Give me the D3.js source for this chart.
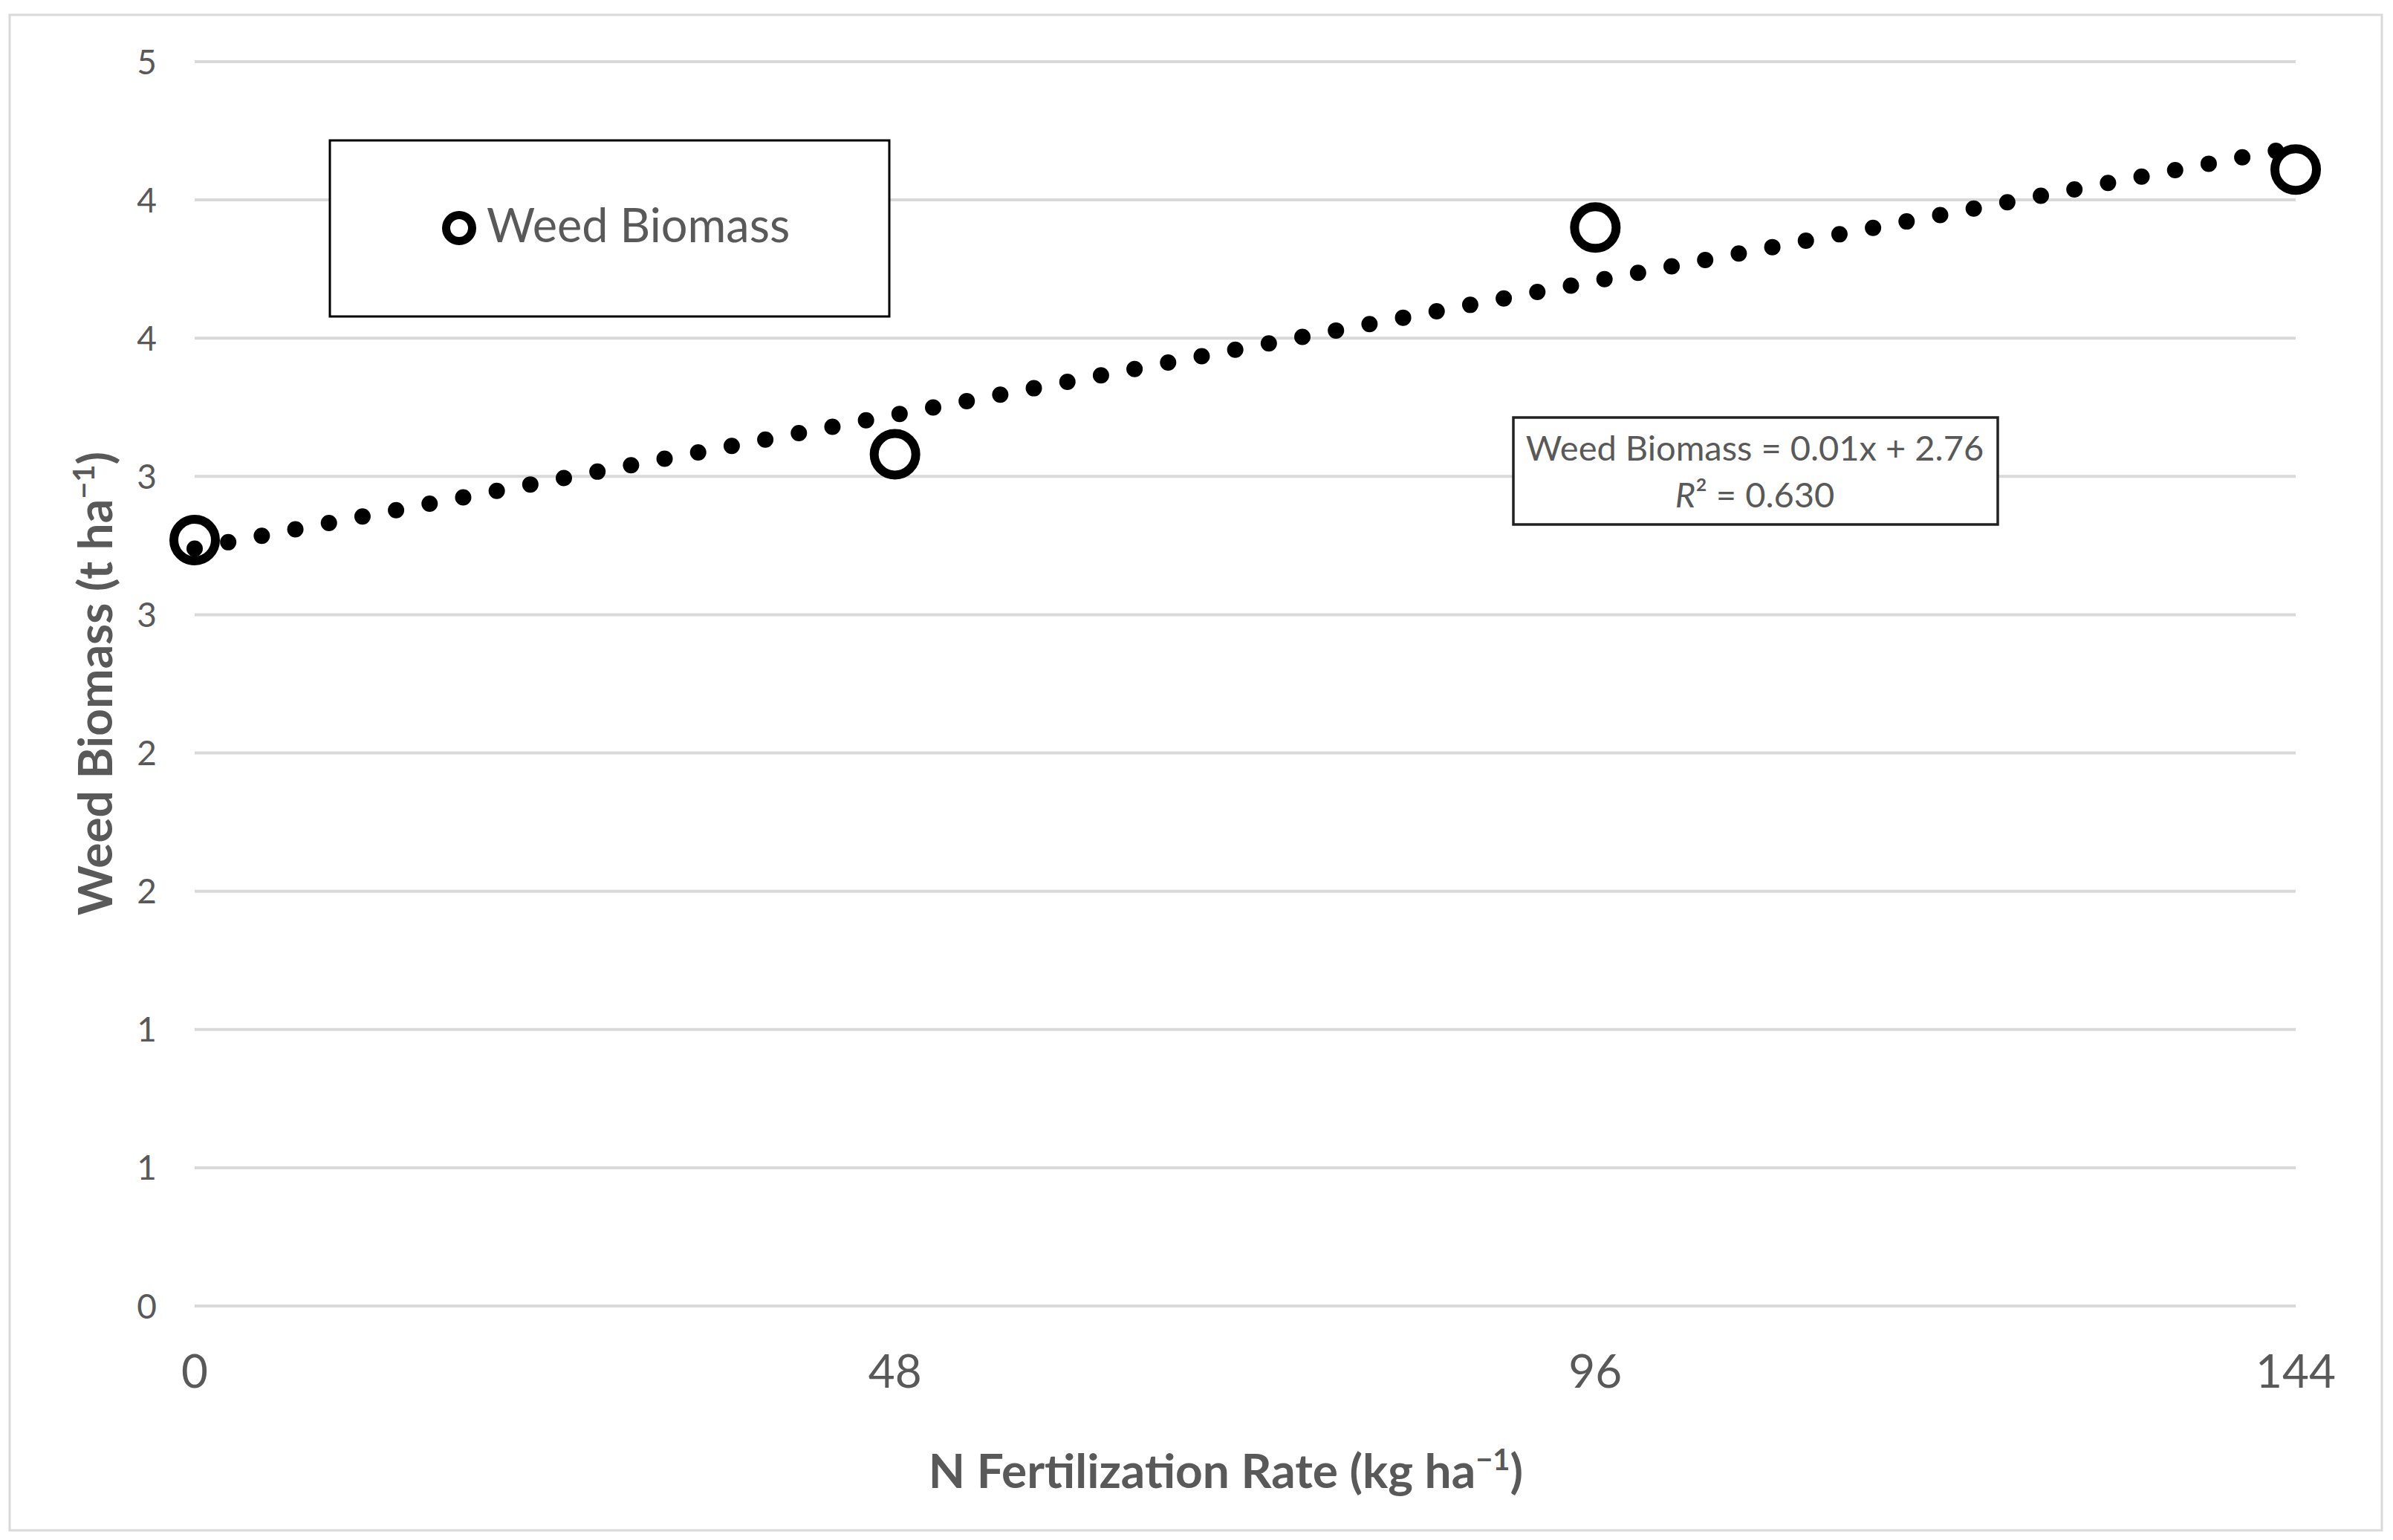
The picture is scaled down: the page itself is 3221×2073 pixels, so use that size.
<!DOCTYPE html>
<html lang="en">
<head>
<meta charset="UTF-8" />
<title>Weed Biomass vs N Fertilization Rate</title>
<script src="https://d3js.org/d3.v7.min.js"></script>
<style>
  html, body { margin: 0; padding: 0; background: #fff; }
  svg { display: block; font-family: Lato, "Open Sans", sans-serif; }
  .lbl { fill: #595959; }
  .title { fill: #595959; font-weight: bold; }
</style>
</head>
<body>
<div id="chart"></div>
<script>
// data
const nRates = [0, 48, 96, 144];
const weedBiomass = [2.77, 3.08, 3.90, 4.11];
const xTicks = [0, 48, 96, 144];
const yTicks = [0, 0.5, 1, 1.5, 2, 2.5, 3, 3.5, 4, 4.5];
const seriesName = "Weed Biomass";
const equationText = "Weed Biomass = 0.01x + 2.76";
const r2Text = " = 0.630";

(function () {
  const W = 3221, H = 2073;
  const svg = d3.select("#chart").append("svg")
    .attr("width", W).attr("height", H);

  svg.append("rect").attr("width", W).attr("height", H).attr("fill", "#fff");
  // chart area border
  svg.append("rect")
    .attr("x", 13).attr("y", 20).attr("width", 3193).attr("height", 2040)
    .attr("fill", "none").attr("stroke", "#d9d9d9").attr("stroke-width", 3);

  const x = d3.scaleLinear().domain([0, 144]).range([262, 3090]);
  const y = d3.scaleLinear().domain([0, 4.5]).range([1758, 83]);

  // gridlines
  svg.append("g").selectAll("line")
    .data(yTicks)
    .join("line")
    .attr("x1", x(0)).attr("x2", x(144))
    .attr("y1", d => y(d)).attr("y2", d => y(d))
    .attr("stroke", "#d9d9d9").attr("stroke-width", 4);

  // y axis labels (Excel shows 0 decimals, so 0.5 steps round)
  const fmt = d3.format(".0f");
  svg.append("g").selectAll("text")
    .data(yTicks)
    .join("text")
    .attr("class", "lbl")
    .attr("x", 211).attr("y", d => y(d))
    .attr("dy", "0.36em")
    .attr("text-anchor", "end")
    .attr("font-size", 46)
    .text(d => fmt(d));

  // x axis labels
  svg.append("g").selectAll("text")
    .data(xTicks)
    .join("text")
    .attr("class", "lbl")
    .attr("x", d => x(d)).attr("y", 1868)
    .attr("text-anchor", "middle")
    .attr("font-size", 62)
    .text(d => d);

  // axis titles
  const xt = svg.append("text").attr("class", "title")
    .attr("x", 1650).attr("y", 2003)
    .attr("text-anchor", "middle").attr("font-size", 64);
  xt.append("tspan").text("N Fertilization Rate (kg ha");
  xt.append("tspan").attr("dy", -24).attr("font-size", 40).text("\u22121");
  xt.append("tspan").attr("dy", 24).text(")");

  const yt = svg.append("text").attr("class", "title")
    .attr("transform", "translate(151,920) rotate(-90)")
    .attr("text-anchor", "middle").attr("font-size", 64);
  yt.append("tspan").text("Weed Biomass (t ha");
  yt.append("tspan").attr("dy", -24).attr("font-size", 40).text("\u22121");
  yt.append("tspan").attr("dy", 24).text(")");

  // markers
  const pts = nRates.map((n, i) => ({ n, v: weedBiomass[i] }));
  svg.append("g").selectAll("circle")
    .data(pts)
    .join("circle")
    .attr("cx", d => x(d.n)).attr("cy", d => y(d.v))
    .attr("r", 28)
    .attr("fill", "none").attr("stroke", "#000").attr("stroke-width", 12);

  // linear trendline (least squares on the points)
  const mx = d3.mean(nRates), my = d3.mean(weedBiomass);
  const sxy = d3.sum(nRates, (n, i) => (n - mx) * (weedBiomass[i] - my));
  const sxx = d3.sum(nRates, n => (n - mx) * (n - mx));
  const slope = sxy / sxx, icpt = my - slope * mx;
  const trend = [0, 144].map(n => ({ n, v: icpt + slope * n }));
  svg.append("path")
    .datum(trend)
    .attr("d", d3.line().x(d => x(d.n)).y(d => y(d.v)))
    .attr("fill", "none").attr("stroke", "#000")
    .attr("stroke-width", 22)
    .attr("stroke-linecap", "round")
    .attr("stroke-dasharray", "0 46");

  // legend
  svg.append("rect")
    .attr("x", 444).attr("y", 189).attr("width", 753).attr("height", 237)
    .attr("fill", "#fff").attr("stroke", "#000").attr("stroke-width", 3);
  svg.append("circle")
    .attr("cx", 618).attr("cy", 307).attr("r", 17.5)
    .attr("fill", "none").attr("stroke", "#000").attr("stroke-width", 11);
  svg.append("text").attr("class", "lbl")
    .attr("x", 655).attr("y", 326).attr("font-size", 63)
    .text(seriesName);

  // equation box
  svg.append("rect")
    .attr("x", 2037).attr("y", 562).attr("width", 652).attr("height", 144)
    .attr("fill", "#fff").attr("stroke", "#222").attr("stroke-width", 3.5);
  svg.append("text").attr("class", "lbl")
    .attr("x", 2362).attr("y", 620).attr("text-anchor", "middle")
    .attr("font-size", 47)
    .text(equationText);
  const r2 = svg.append("text").attr("class", "lbl")
    .attr("x", 2362).attr("y", 683).attr("text-anchor", "middle")
    .attr("font-size", 47);
  r2.append("tspan").attr("font-style", "italic").text("R");
  r2.append("tspan").text("\u00b2" + r2Text);
})();
</script>
</body>
</html>
